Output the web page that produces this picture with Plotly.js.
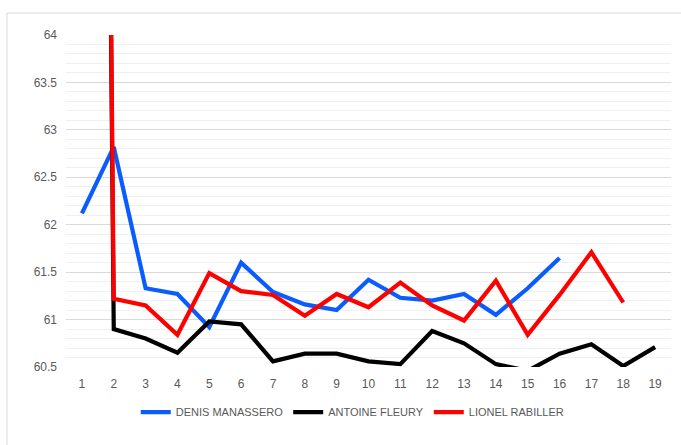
<!DOCTYPE html>
<html>
<head>
<meta charset="utf-8">
<script src="https://cdn.plot.ly/plotly-3.0.1.min.js"></script>
<style>
  html, body { margin: 0; padding: 0; background: #fff; }
  #chart { width: 681px; height: 445px; }
</style>
</head>
<body>
<div id="chart"></div>
<script>
const laps = [1, 2, 3, 4, 5, 6, 7, 8, 9, 10, 11, 12, 13, 14, 15, 16, 17, 18, 19];
const denisManassero = [62.12, 62.82, 61.33, 61.27, 60.92, 61.60, 61.29, 61.16, 61.10, 61.42, 61.23, 61.20, 61.27, 61.05, 61.33, 61.65, null, null, null];
const antoineFleury = [97.0, 60.90, 60.80, 60.65, 60.98, 60.95, 60.56, 60.64, 60.64, 60.56, 60.53, 60.88, 60.75, 60.53, 60.46, 60.64, 60.74, 60.51, 60.71];
const lionelRabiller = [97.0, 61.22, 61.15, 60.84, 61.49, 61.30, 61.26, 61.04, 61.27, 61.13, 61.39, 61.15, 60.99, 61.41, 60.84, 61.26, 61.71, 61.18, null];
const seriesNames = ["DENIS MANASSERO", "ANTOINE FLEURY", "LIONEL RABILLER"];
const yTicks = [60.5, 61, 61.5, 62, 62.5, 63, 63.5, 64];

const FONT = "'Liberation Sans', Arial, sans-serif";
const TXT = "#595959";

const mk = (y, name, color) => ({
  x: laps, y: y, name: name, type: "scatter", mode: "lines",
  line: { color: color, width: 4.2 }, connectgaps: false, cliponaxis: true
});

const data = [
  mk(denisManassero, seriesNames[0], "#0a5cff"),
  mk(antoineFleury, seriesNames[1], "#000000"),
  mk(lionelRabiller, seriesNames[2], "#ff0000")
];

const layout = {
  width: 681, height: 445,
  margin: { l: 66, r: 10, t: 35, b: 78 },
  paper_bgcolor: "#ffffff", plot_bgcolor: "#ffffff",
  font: { family: FONT, size: 11, color: TXT },
  showlegend: true,
  legend: {
    orientation: "h", x: 0.474, xanchor: "center", y: -0.136, yanchor: "middle",
    font: { family: FONT, size: 11, color: TXT }, itemwidth: 30
  },
  xaxis: {
    range: [0.5, 19.5], tickvals: laps, ticktext: laps.map(String),
    showgrid: false, zeroline: false, showline: false, ticks: "",
    ticklabelstandoff: 8,
    tickfont: { family: FONT, size: 12, color: TXT }, fixedrange: true
  },
  yaxis: {
    range: [60.5, 64], tickvals: yTicks, ticktext: yTicks.map(String),
    showgrid: true, gridcolor: "#d9d9d9", gridwidth: 1,
    minor: { dtick: 0.1, showgrid: true, gridcolor: "#f0f0f0", gridwidth: 1, ticks: "" },
    zeroline: false, showline: false, ticks: "",
    ticklabelstandoff: 8,
    tickfont: { family: FONT, size: 12, color: TXT }, fixedrange: true
  },
  shapes: [{
    type: "rect", xref: "paper", yref: "paper",
    x0: (7 - 66) / 605, x1: (700 - 66) / 605,
    y0: (366.7 - 460) / 331.7, y1: (366.7 - 13) / 331.7,
    line: { color: "#d9d9d9", width: 1 }, fillcolor: "rgba(0,0,0,0)", layer: "below"
  }]
};

Plotly.newPlot("chart", data, layout, { displayModeBar: false, staticPlot: true });
</script>
</body>
</html>
